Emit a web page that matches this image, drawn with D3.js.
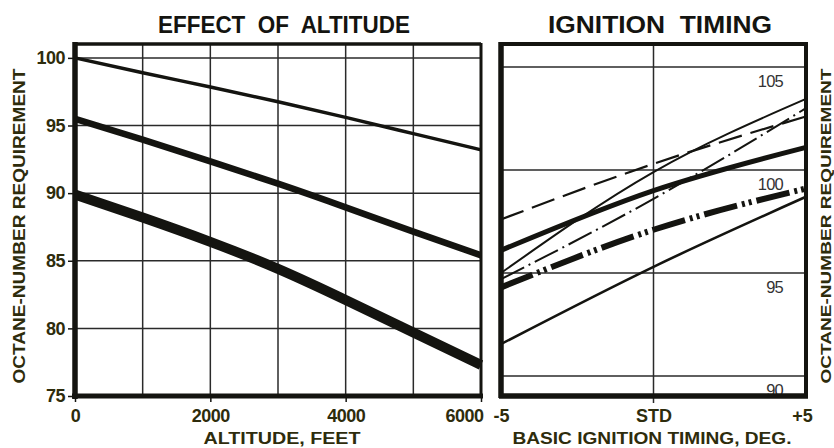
<!DOCTYPE html>
<html>
<head>
<meta charset="utf-8">
<script src="https://cdn.jsdelivr.net/npm/d3@7"></script>
<style>
  html, body { margin: 0; padding: 0; background: #ffffff; }
  svg { display: block; }
  text { font-family: "Liberation Sans", Arial, sans-serif; }
</style>
</head>
<body>
<svg id="chart" width="834" height="448"></svg>
<script>
// ---- Effect of altitude ----
const altitudeFt = [0, 1000, 2000, 3000, 4000, 5000, 6000];
const octaneFrom100 = [100, 98.9, 97.85, 96.75, 95.6, 94.4, 93.2];
const octaneFrom95 = [95.5, 93.95, 92.35, 90.7, 88.95, 87.15, 85.4];
const octaneFrom90 = [89.9, 88.2, 86.4, 84.4, 82.1, 79.7, 77.3];
const altitudeTicks = [0, 2000, 4000, 6000];
const altitudeGrid = [1000, 2000, 3000, 4000, 5000];
const octaneTicks = [75, 80, 85, 90, 95, 100];

// ---- Ignition timing ----
const timingDeg = [-5, 0, 5];
const timingTickLabels = ["-5", "STD", "+5"];
const timingGrid = [0];
const octaneTimingGrid = [90, 95, 100, 105];
const longDashCurve = [97.6, 100.3, 102.6];
const thinSolidCurve = [95.0, 99.9, 103.45];
const thinDashDotCurve = [94.7, 98.6, 103.0];
const heavySolidCurve = [96.1, 99.0, 101.1];
const heavyDashDotDotCurve = [94.3, 97.1, 99.1];
const lowSolidCurve = [91.55, 95.3, 98.7];

const ink = "#141410";
const labelInk = "#2e2c0c";

const svg = d3.select("#chart");

// ================= Left panel =================
const xA = d3.scaleLinear().domain([0, 6000]).range([75, 481]);
const yA = d3.scaleLinear().domain([75, 101.1]).range([396, 43]);

const left = svg.append("g");

// grid
left.selectAll("line.vg").data(altitudeGrid).join("line")
  .attr("x1", d => xA(d)).attr("x2", d => xA(d))
  .attr("y1", yA.range()[1]).attr("y2", yA.range()[0])
  .attr("stroke", "#2a2a2a").attr("stroke-width", 1.5);
left.selectAll("line.hg").data(octaneTicks.filter(v => v > 75)).join("line")
  .attr("x1", xA.range()[0]).attr("x2", xA.range()[1])
  .attr("y1", d => yA(d)).attr("y2", d => yA(d))
  .attr("stroke", "#2a2a2a").attr("stroke-width", 1.5);

// curves
const lineA = d3.line().x((d, i) => xA(altitudeFt[i])).y(d => yA(d)).curve(d3.curveNatural);
[[octaneFrom100, 3.5], [octaneFrom95, 6.5], [octaneFrom90, 10]].forEach(([s, w]) => {
  left.append("path").attr("d", lineA(s))
    .attr("fill", "none").attr("stroke", ink).attr("stroke-width", w);
});

// frame
left.append("line").attr("x1", 75).attr("x2", 481).attr("y1", 44).attr("y2", 44)
  .attr("stroke", ink).attr("stroke-width", 3.5);
left.append("line").attr("x1", 481).attr("x2", 481).attr("y1", 43).attr("y2", 397)
  .attr("stroke", ink).attr("stroke-width", 3);

// axes
const axLeftY = d3.axisLeft(yA).tickValues(octaneTicks).tickSize(7).tickPadding(3);
const gY = left.append("g").attr("transform", "translate(75,0)").call(axLeftY);
gY.select(".domain").remove();
gY.selectAll(".tick line").attr("stroke", ink).attr("stroke-width", 1.5);
gY.selectAll(".tick text").attr("font-size", 18).attr("font-weight", "bold")
  .attr("fill", labelInk).attr("font-family", "Liberation Sans, Arial, sans-serif")
  .attr("letter-spacing", -0.5);

const axBottomA = d3.axisBottom(xA).tickValues(altitudeTicks).tickSize(6).tickPadding(7)
  .tickFormat(d3.format("d"));
const gX = left.append("g").attr("transform", "translate(0,396)").call(axBottomA);
gX.select(".domain").remove();
gX.selectAll(".tick line").attr("stroke", ink).attr("stroke-width", 1.5);
gX.selectAll(".tick text").attr("font-size", 18).attr("font-weight", "bold")
  .attr("fill", labelInk).attr("font-family", "Liberation Sans, Arial, sans-serif")
  .attr("letter-spacing", -0.5)
  .attr("text-anchor", d => d === 6000 ? "end" : "middle")
  .attr("dx", d => d === 6000 ? 2 : 0);

// heavy axis lines
left.append("line").attr("x1", 75).attr("x2", 75).attr("y1", 42).attr("y2", 399)
  .attr("stroke", ink).attr("stroke-width", 5.5);
left.append("line").attr("x1", 72).attr("x2", 483).attr("y1", 396).attr("y2", 396)
  .attr("stroke", ink).attr("stroke-width", 5);

// ================= Right panel =================
const xB = d3.scaleLinear().domain([-5, 5]).range([501, 806]);
const yB = d3.scaleLinear().domain([90, 105]).range([376, 67]);
const right = svg.append("g");

right.selectAll("line.hg").data(octaneTimingGrid).join("line")
  .attr("x1", 501).attr("x2", 806)
  .attr("y1", d => yB(d)).attr("y2", d => yB(d))
  .attr("stroke", "#2a2a2a").attr("stroke-width", 1.5);
right.selectAll("line.vg").data(timingGrid).join("line")
  .attr("x1", d => xB(d)).attr("x2", d => xB(d))
  .attr("y1", 43).attr("y2", 403)
  .attr("stroke", "#2a2a2a").attr("stroke-width", 1.5);

right.selectAll("text.gl").data(octaneTimingGrid).join("text")
  .attr("x", 783).attr("y", d => yB(d) + 20)
  .attr("text-anchor", "end").attr("font-size", 16.5).attr("fill", "#333")
  .attr("letter-spacing", -0.8)
  .text(d => d);

const lineB = d3.line().x((d, i) => xB(timingDeg[i])).y(d => yB(d)).curve(d3.curveNatural);
const timingSeries = [
  { v: lowSolidCurve, w: 2.6, dash: null },
  { v: heavyDashDotDotCurve, w: 6, dash: "34,5,3,4,3,5" },
  { v: heavySolidCurve, w: 5, dash: null },
  { v: thinDashDotCurve, w: 2, dash: "26,5,2,5" },
  { v: thinSolidCurve, w: 2, dash: null },
  { v: longDashCurve, w: 2.2, dash: "24,9" }
];
timingSeries.forEach(s => {
  right.append("path").attr("d", lineB(s.v))
    .attr("fill", "none").attr("stroke", ink).attr("stroke-width", s.w)
    .attr("stroke-dasharray", s.dash);
});

// frame
right.append("rect").attr("x", 501).attr("y", 44).attr("width", 305).attr("height", 352)
  .attr("fill", "none").attr("stroke", ink).attr("stroke-width", 4);
right.append("line").attr("x1", 501).attr("x2", 501).attr("y1", 42).attr("y2", 398)
  .attr("stroke", ink).attr("stroke-width", 5.5);
right.append("line").attr("x1", 499).attr("x2", 808).attr("y1", 396).attr("y2", 396)
  .attr("stroke", ink).attr("stroke-width", 5.5);

const axBottomB = d3.axisBottom(xB).tickValues(timingDeg).tickSize(0).tickPadding(13)
  .tickFormat((d, i) => timingTickLabels[i]);
const gXB = right.append("g").attr("transform", "translate(0,396)").call(axBottomB);
gXB.select(".domain").remove();
gXB.selectAll(".tick text").attr("font-size", 18).attr("font-weight", "bold")
  .attr("fill", labelInk).attr("font-family", "Liberation Sans, Arial, sans-serif")
  .attr("dx", (d, i) => i === 2 ? -4 : 0);

// ================= Titles =================
svg.append("text").attr("x", 284).attr("y", 33).attr("text-anchor", "middle")
  .attr("font-size", 23).attr("font-weight", "bold").attr("fill", ink)
  .attr("textLength", 252).attr("lengthAdjust", "spacingAndGlyphs")
  .attr("xml:space", "preserve").text("EFFECT  OF  ALTITUDE");
svg.append("text").attr("x", 660).attr("y", 33).attr("text-anchor", "middle")
  .attr("font-size", 23).attr("font-weight", "bold").attr("fill", ink)
  .attr("textLength", 224).attr("lengthAdjust", "spacingAndGlyphs")
  .attr("xml:space", "preserve").text("IGNITION  TIMING");

svg.append("text").attr("x", 282).attr("y", 444).attr("text-anchor", "middle")
  .attr("font-size", 16).attr("font-weight", "bold").attr("fill", labelInk)
  .attr("textLength", 157).attr("lengthAdjust", "spacingAndGlyphs")
  .text("ALTITUDE, FEET");
svg.append("text").attr("x", 652).attr("y", 444).attr("text-anchor", "middle")
  .attr("font-size", 16).attr("font-weight", "bold").attr("fill", labelInk)
  .attr("textLength", 279).attr("lengthAdjust", "spacingAndGlyphs")
  .text("BASIC IGNITION TIMING, DEG.");

svg.append("text").attr("transform", "translate(25,226) rotate(-90)")
  .attr("text-anchor", "middle").attr("font-size", 16).attr("font-weight", "bold")
  .attr("fill", labelInk).attr("textLength", 315).attr("lengthAdjust", "spacingAndGlyphs")
  .text("OCTANE-NUMBER REQUIREMENT");
svg.append("text").attr("transform", "translate(831,226) rotate(-90)")
  .attr("text-anchor", "middle").attr("font-size", 15).attr("font-weight", "bold")
  .attr("fill", labelInk).attr("textLength", 315).attr("lengthAdjust", "spacingAndGlyphs")
  .text("OCTANE-NUMBER REQUIREMENT");
</script>
</body>
</html>
